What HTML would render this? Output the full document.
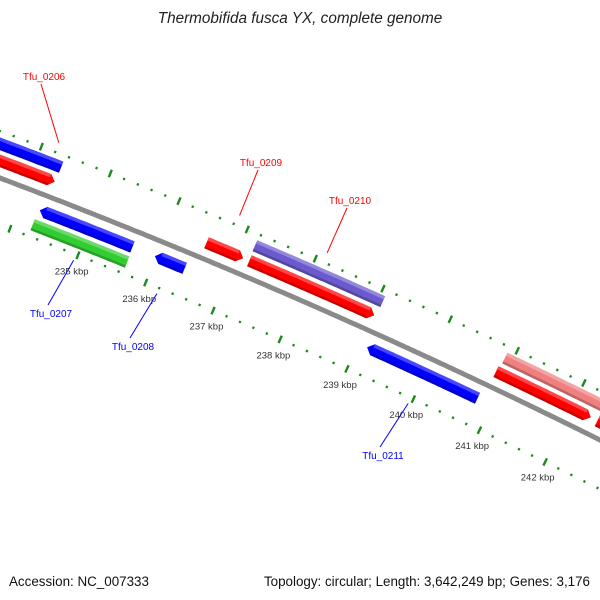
<!DOCTYPE html>
<html><head><meta charset="utf-8"><style>
html,body{margin:0;padding:0;background:#fff;overflow:hidden;}
svg{display:block;font-family:"Liberation Sans",sans-serif;}
</style></head><body>
<svg id="map" width="600" height="600" viewBox="0 0 600 600" xmlns="http://www.w3.org/2000/svg">
<rect width="600" height="600" fill="#fff"/>
<g id="ticks"></g>
<g id="feats"></g>
<g id="labels"></g>
<text x="300" y="23" text-anchor="middle" font-size="15.3" font-style="italic" fill="#222">Thermobifida fusca YX, complete genome</text>
<text x="9" y="586" font-size="13.4" fill="#111">Accession: NC_007333</text>
<text x="590" y="586" text-anchor="end" font-size="13.4" fill="#111">Topology: circular; Length: 3,642,249 bp; Genes: 3,176</text>
</svg>
<script>
// ---- data ----
const featStart  = [232.0, 232.0, 234.29, 234.27, 235.98, 236.56, 237.18, 237.19, 239.13, 240.89, 240.86, 242.39];
const featEnd    = [234.34, 234.35, 235.65, 235.66, 236.42, 237.10, 239.07, 239.04, 240.79, 244.0, 242.29, 245.0];
const featStrand = [1, 1, -1, -1, -1, 1, 1, 1, -1, 1, 1, 1];
const featSlot   = [1, 2, 1, 2, 1, 1, 2, 1, 1, 2, 1, 1];
const featArrow  = [1, 0, 1, 0, 1, 1, 0, 1, 1, 0, 1, 1];
const featColor  = ["#ff0000","#0000ff","#0000ff","#33cc33","#0000ff","#ff0000","#6a5acd","#ff0000","#0000ff","#f08080","#ff0000","#ff0000"];
const labelNames = ["Tfu_0206","Tfu_0207","Tfu_0208","Tfu_0209","Tfu_0210","Tfu_0211"];
const labelFeat  = [0, 2, 4, 5, 7, 8];
const labelPos   = [[44,80],[51,317],[133,350],[261,166],[350,204],[383,459]];
const tickLabelKbp = [235, 236, 237, 238, 239, 240, 241, 242];
const tickMin = 230, tickMax = 246, tickStep = 0.2;

// ---- geometry ----
const A=[0,178],B=[300,300],C=[600,440];
function circ(a,b,c){const d=2*(a[0]*(b[1]-c[1])+b[0]*(c[1]-a[1])+c[0]*(a[1]-b[1]));
const s=p=>p[0]*p[0]+p[1]*p[1];
return [(s(a)*(b[1]-c[1])+s(b)*(c[1]-a[1])+s(c)*(a[1]-b[1]))/d,(s(a)*(c[0]-b[0])+s(b)*(a[0]-c[0])+s(c)*(b[0]-a[0]))/d];}
const CEN=circ(A,B,C), R=Math.hypot(A[0]-CEN[0],A[1]-CEN[1]);
const REF=[93.5,216]; const th0=Math.atan2(REF[1]-CEN[1],REF[0]-CEN[0]);
const PXK=73.5;
const ang=k=>th0+(k-235)*PXK/R;
const pt=(k,r)=>{const t=ang(k),rr=R+r;return [CEN[0]+rr*Math.cos(t),CEN[1]+rr*Math.sin(t)];};
const NS="http://www.w3.org/2000/svg";
const mk=(tag,at,parent)=>{const e=document.createElementNS(NS,tag);for(const k in at)e.setAttribute(k,at[k]);parent.appendChild(e);return e;};
const f=p=>p[0].toFixed(1)+","+p[1].toFixed(1);
function arcPts(k0,k1,r){const n=Math.max(2,Math.ceil(Math.abs(k1-k0)*PXK/3));const a=[];for(let i=0;i<=n;i++)a.push(pt(k0+(k1-k0)*i/n,r));return a;}

const bb=mk("polyline",{points:arcPts(225,250,0).map(f).join(" "),fill:"none",stroke:"#8a8a8a","stroke-width":5},document.getElementById("feats"));



const tg=document.getElementById("ticks");
const nT=Math.round((tickMax-tickMin)/tickStep);
for(let i=0;i<=nT;i++){
  const k=tickMin+i*tickStep; const major=Math.abs(k-Math.round(k))<1e-6;
  [44,-44].forEach(r=>{
    const len=major?8:2.4;
    const p0=pt(k,r-len/2),p1=pt(k,r+len/2);
    const l=mk("line",{x1:p0[0],y1:p0[1],x2:p1[0],y2:p1[1],stroke:"#1b8a1b","stroke-width":major?2.4:2.2},tg);
    
    
  });
}
for(const k of tickLabelKbp){
  const p=pt(k,-61);
  const t=mk("text",{x:p[0],y:p[1]+3.5,"text-anchor":"middle","font-size":"9.5",fill:"#333"},tg);
  t.textContent=k+" kbp";
  
  
}

const fg=document.getElementById("feats");
const W=12;
for(let i=0;i<featStart.length;i++){
  const rc=featStrand[i]*(featSlot[i]==1?16:32);
  const r0=rc-W/2,r1=rc+W/2; let s=featStart[i],e=featEnd[i];
  const ah=6/PXK; let pts;
  if(featArrow[i]&&featStrand[i]>0){
    pts=arcPts(s,e-ah,r1).concat([pt(e,rc)]).concat(arcPts(e-ah,s,r0));
  }else if(featArrow[i]){
    pts=[pt(s,rc)].concat(arcPts(s+ah,e,r1)).concat(arcPts(e,s+ah,r0));
  }else{pts=arcPts(s,e,r1).concat(arcPts(e,s,r0));}
  const g=mk("g",{},fg);
  
  
  mk("polygon",{points:pts.map(f).join(" "),fill:featColor[i]},g);
  const hs=featArrow[i]&&featStrand[i]<0?s+ah:s, he=featArrow[i]&&featStrand[i]>0?e-ah:e;
  mk("polygon",{points:arcPts(hs,he,r1).concat(arcPts(he,hs,r1-3.5)).map(f).join(" "),fill:"#fff",opacity:0.28},g);
  mk("polygon",{points:arcPts(hs,he,r0+2.5).concat(arcPts(he,hs,r0)).map(f).join(" "),fill:"#000",opacity:0.22},g);
}

const lg=document.getElementById("labels");
for(let j=0;j<labelNames.length;j++){
  const i=labelFeat[j]; const col=featStrand[i]>0?"#ff0000":"#0000ff";
  const kk=(featStart[i]+featEnd[i])/2;
  const lp=labelPos[j];
  const anchorPt=featStrand[i]>0?pt(Math.max(kk,234.2),48+6):pt(kk,-44-6);
  const ly=featStrand[i]>0?lp[1]+4:lp[1]-12;
  const ln=mk("line",{x1:lp[0]-3,y1:ly,x2:anchorPt[0],y2:anchorPt[1],stroke:col,"stroke-width":1},lg);
  
  
  const t=mk("text",{x:lp[0],y:lp[1],"text-anchor":"middle","font-size":"10",fill:col},lg);
  t.textContent=labelNames[j];
  
  
}
</script>
</body></html>
